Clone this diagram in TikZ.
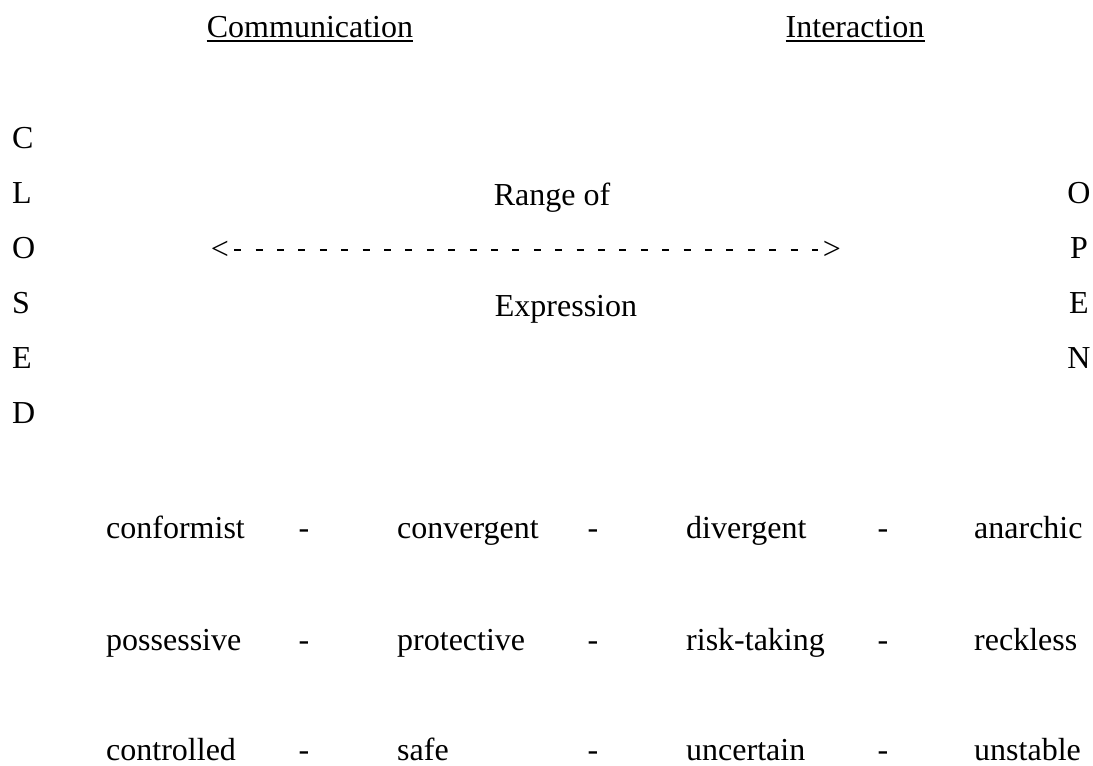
\documentclass[tikz,border=0pt]{standalone}
\usepackage{fontspec}
\setmainfont{Liberation Serif}
\usepackage{tikz}
\tikzset{
  word/.style ={font=\fontsize{32}{38}\selectfont,inner sep=0pt,anchor=base west},
  mid/.style  ={font=\fontsize{32}{38}\selectfont,inner sep=0pt,anchor=base},
  tip/.style  ={font=\fontsize{32}{38}\selectfont,inner sep=0pt,anchor=center},
  uline/.style={draw=black,line width=1.8pt},
  rangeline/.style={draw=black,line width=2.2pt,dash pattern=on 7pt off 14.4pt,
                shorten <=5pt,shorten >=5pt},
}

\begin{document}
\begin{tikzpicture}[x=1pt,y=-1pt]
\useasboundingbox (0,0) rectangle (1093,766);
%======================= HEADINGS ===============================
\node[mid] (comm) at (310,37) {Communication};
\node[mid] (inter) at (855,37) {Interaction};
\foreach \n in {comm,inter}
  \draw[uline] ([yshift=-4pt]\n.base west) -- ([yshift=-4pt]\n.base east);
%======================= CLOSED / OPEN ==========================
\foreach \ch/\y [count=\i] in {C/148,L/203,O/258,S/313,E/368,D/423}
  \node[word] (cl\i) at (12,\y) {\ch};
\foreach \ch/\y [count=\i] in {O/203,P/258,E/313,N/368}
  \node[mid] (op\i) at (1079,\y) {\ch};
%======================= RANGE ==================================
\node[mid] (rng) at (552,205) {Range of};
\node[mid] (expr) at (566,316) {Expression};
\node[tip] (lt) at (220,250) {<};
\node[tip] (gt) at (832,250) {>};
\draw[rangeline] (lt.east) -- (gt.west);
%======================= WORD ROWS ==============================
\foreach \a/\b/\c/\d/\y [count=\r] in
  {conformist/convergent/divergent/anarchic/538,
   possessive/protective/risk-taking/reckless/650,
   controlled/safe/uncertain/unstable/760}{
  \node[word] (w\r1) at (106,\y) {\a};
  \node[word] (w\r2) at (397,\y) {\b};
  \node[word] (w\r3) at (686,\y) {\c};
  \node[word] (w\r4) at (974,\y) {\d};
  \foreach \x [count=\k] in {304,593,883}
    \node[mid] (h\r\k) at (\x,\y) {-};
}
\end{tikzpicture}
\end{document}
